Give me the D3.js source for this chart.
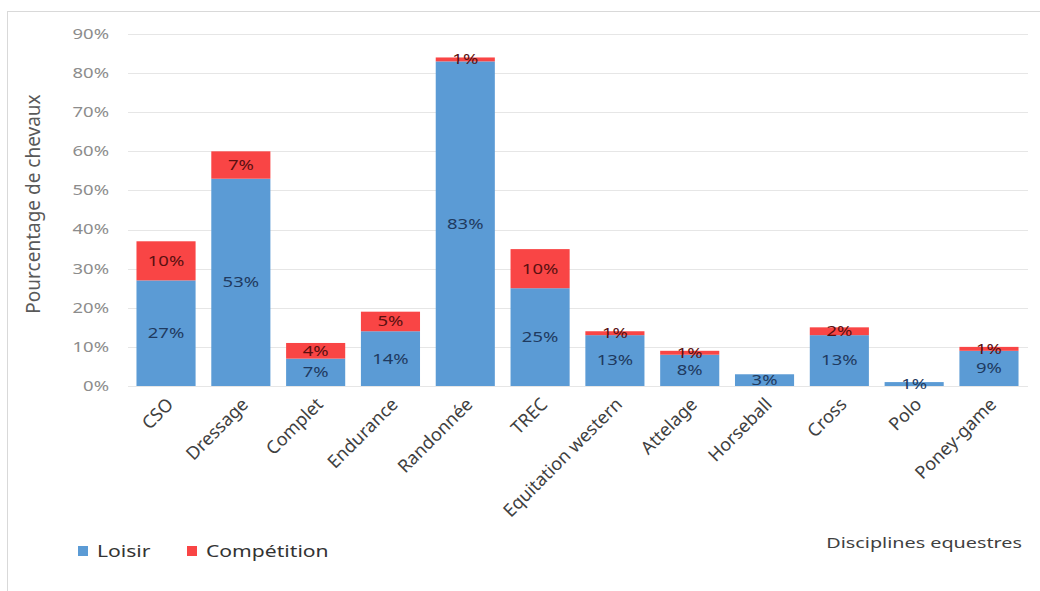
<!DOCTYPE html>
<html>
<head>
<meta charset="utf-8">
<script src="https://cdn.jsdelivr.net/npm/d3@7"></script>
<style>
body { margin: 0; background: #fff; }
text { font-family: "Noto Sans", "Open Sans", sans-serif; }
</style>
</head>
<body>
<svg class="chart"></svg>
<script>
var width = 1040,
	height = 591,
	stretch = 1.32; // the reference text is wider than it is tall

var disciplines = ["CSO", "Dressage", "Complet", "Endurance", "Randonnée", "TREC", "Equitation western", "Attelage", "Horseball", "Cross", "Polo", "Poney-game"];
var loisir = [27, 53, 7, 14, 83, 25, 13, 8, 3, 13, 1, 9];
var competition = [10, 7, 4, 5, 1, 10, 1, 1, 0, 2, 0, 1];
var yTicks = [0, 10, 20, 30, 40, 50, 60, 70, 80, 90];

var data = disciplines.map(function(d, i) {
	return { name: d, loisir: loisir[i], competition: competition[i] };
});

var svg = d3.select(".chart")
	.attr("width", width)
	.attr("height", height);

svg.append("rect")
	.attr("x", 7.5).attr("y", 11.5)
	.attr("width", 1040).attr("height", 600)
	.attr("fill", "#fff")
	.attr("stroke", "#d9d9d9");

var x = d3.scaleBand()
	.domain(disciplines)
	.range([129, 1026])
	.paddingInner(0.21)
	.paddingOuter(0.1);

var y = d3.scaleLinear()
	.domain([0, 90])
	.range([386, 34]);

// grid
svg.append("g")
	.selectAll("line")
	.data(yTicks)
  .enter().append("line")
	.attr("x1", 128).attr("x2", 1028)
	.attr("y1", function(d) { return Math.round(y(d)) + 0.5; })
	.attr("y2", function(d) { return Math.round(y(d)) + 0.5; })
	.attr("stroke", "#e6e6e6");

// tick labels, stretched sideways like the reference
svg.append("g")
	.selectAll("text")
	.data(yTicks)
  .enter().append("text")
	.attr("transform", function(d) { return "translate(109," + y(d) + ") scale(" + stretch + ",1)"; })
	.attr("text-anchor", "end")
	.attr("dy", ".35em")
	.attr("fill", "#8c8c8c")
	.style("font-size", "14px")
	.text(function(d) { return d + "%"; });

var stack = d3.stack().keys(["loisir", "competition"]);
var series = stack(data);
var colors = { loisir: "#5b9bd5", competition: "#f94545" };
var labelColors = { loisir: "#1f3a60", competition: "#5a1010" };

var layer = svg.selectAll(".layer")
	.data(series)
  .enter().append("g")
	.attr("class", "layer")
	.attr("fill", function(d) { return colors[d.key]; });

layer.selectAll("rect")
	.data(function(d) { return d; })
  .enter().append("rect")
	.attr("x", function(d) { return x(d.data.name); })
	.attr("y", function(d) { return y(d[1]); })
	.attr("width", x.bandwidth())
	.attr("height", function(d) { return y(d[0]) - y(d[1]); });

series.forEach(function(s) {
	svg.append("g")
		.selectAll("text")
		.data(s.filter(function(d) { return d[1] - d[0] > 0; }))
	  .enter().append("text")
		.attr("transform", function(d) {
			return "translate(" + (x(d.data.name) + x.bandwidth() / 2) + "," + (y(d[0]) + y(d[1])) / 2 + ") scale(" + stretch + ",1)";
		})
		.attr("dy", ".35em")
		.attr("text-anchor", "middle")
		.attr("fill", labelColors[s.key])
		.style("font-size", "14px")
		.text(function(d) { return (d[1] - d[0]) + "%"; });
});

// category labels
svg.append("g")
	.selectAll("text")
	.data(disciplines)
  .enter().append("text")
	.attr("transform", function(d) {
		return "translate(" + (x(d) + x.bandwidth() / 2 + 4) + ",401) rotate(-45)";
	})
	.attr("text-anchor", "end")
	.attr("dy", ".35em")
	.attr("fill", "#404040")
	.style("font-size", "18px")
	.text(function(d) { return d; });

svg.append("text")
	.attr("transform", "translate(40,204) rotate(-90)")
	.attr("text-anchor", "middle")
	.attr("fill", "#595959")
	.style("font-size", "19px")
	.text("Pourcentage de chevaux");

svg.append("text")
	.attr("transform", "translate(1022,543) scale(" + stretch + ",1)")
	.attr("text-anchor", "end")
	.attr("dy", ".35em")
	.attr("fill", "#404040")
	.style("font-size", "15px")
	.text("Disciplines equestres");

var legend = svg.selectAll(".legend")
	.data([{ key: "loisir", label: "Loisir", x: 78 }, { key: "competition", label: "Compétition", x: 187 }])
  .enter().append("g")
	.attr("transform", function(d) { return "translate(" + d.x + ",546)"; });

legend.append("rect")
	.attr("width", 10).attr("height", 10)
	.attr("fill", function(d) { return colors[d.key]; });

legend.append("text")
	.attr("transform", "translate(19,5) scale(" + stretch + ",1)")
	.attr("dy", ".35em")
	.attr("fill", "#333")
	.style("font-size", "16px")
	.text(function(d) { return d.label; });
</script>
</body>
</html>
